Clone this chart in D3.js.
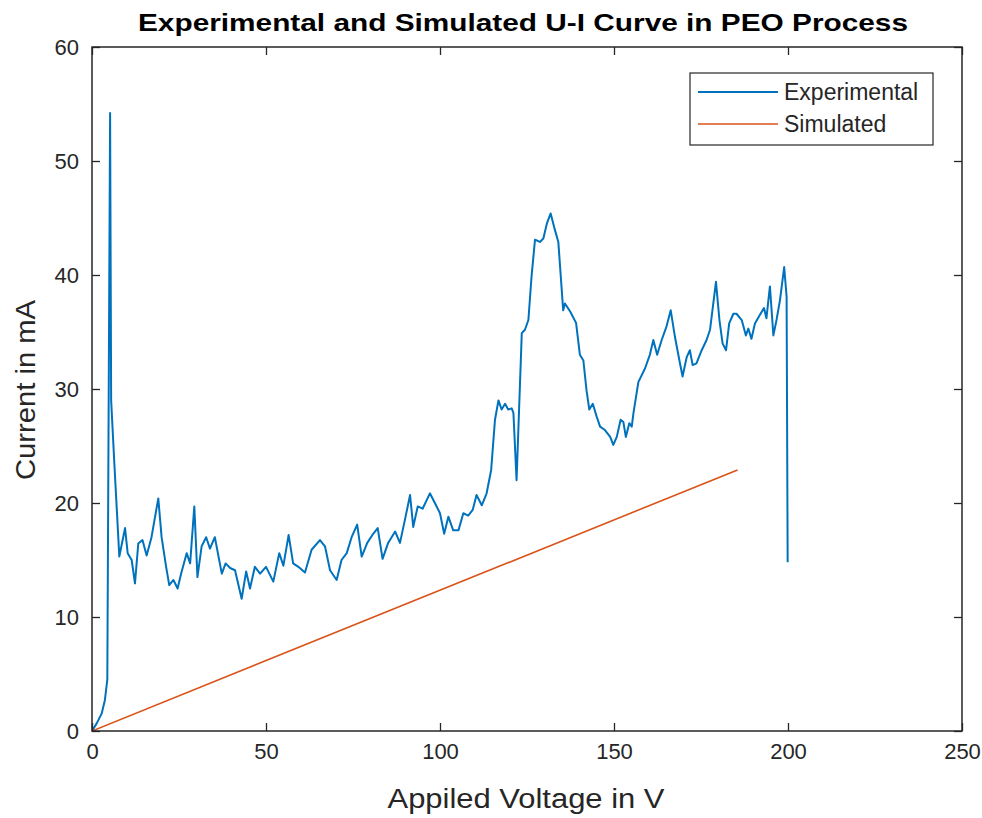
<!DOCTYPE html>
<html>
<head>
<meta charset="utf-8">
<script src="https://cdn.jsdelivr.net/npm/d3@7"></script>
<style>
  html, body { margin: 0; padding: 0; background: #ffffff; }
  svg { display: block; font-family: "Liberation Sans", Arial, Helvetica, sans-serif; }
</style>
</head>
<body>
<svg id="chart" width="982" height="818"></svg>
<script>
// Measured U-I curve of the plasma electrolytic oxidation run
const expVoltage = [0,1.35,2.8,3.7,4.4,5.2,5.5,6.5,7.85,8.8,9.5,10.25,11.4,12.35,13.3,14.5,15.7,17.1,19.05,20.0,
  21.3,22.2,23.4,24.6,25.6,27.2,28.2,29.4,30.3,31.5,32.8,33.9,35.3,37.3,38.4,39.7,41.1,43.0,44.3,45.4,
  46.8,48.3,50.0,52.1,53.8,55.0,56.5,57.8,59.3,61.2,63.1,65.5,66.95,68.4,70.3,71.7,73.2,74.6,76.2,77.5,
  79.1,80.8,82.1,83.5,85.1,87.1,88.5,89.9,91.4,92.3,93.6,95.0,97.1,98.6,100.0,101.2,102.4,103.8,105.3,106.7,
  108.1,109.4,110.5,112.0,113.4,114.7,115.8,116.8,117.7,118.7,119.6,120.6,121.1,122.0,123.5,124.4,125.4,126.3,127.3,128.7,
  129.7,130.7,131.8,132.8,134.0,135.4,135.9,137.4,139.1,140.2,141.2,142.1,142.9,143.9,145.0,146.0,147.4,148.9,149.8,150.8,
  151.9,152.7,153.4,154.4,155.1,155.6,157.0,158.9,160.3,161.3,162.4,163.7,165.1,166.3,167.5,168.8,169.7,170.9,171.8,172.6,
  173.7,175.2,176.6,177.6,179.3,180.3,181.2,182.2,183.1,184.3,185.2,186.7,187.9,188.6,189.5,190.5,191.9,193.1,193.8,194.8,
  195.8,196.7,197.7,198.9,199.6,199.9];
const expCurrent = [0,0.67,1.55,2.7,4.5,54.2,29,23,15.3,16.75,17.8,15.6,15.0,12.95,16.45,16.75,15.4,17.0,20.4,17.0,
  14.4,12.8,13.25,12.5,13.8,15.6,14.7,19.7,13.5,16.2,17.0,16.0,17.0,13.8,14.7,14.3,14.1,11.6,14.0,12.5,
  14.4,13.8,14.4,13.1,15.6,14.5,17.2,14.7,14.4,13.9,15.9,16.75,16.2,14.1,13.25,15.0,15.6,17.0,18.1,15.3,
  16.5,17.3,17.8,15.1,16.5,17.5,16.5,18.5,20.7,17.9,19.7,19.5,20.85,19.96,19.1,17.3,18.8,17.6,17.6,19.1,
  18.9,19.4,20.7,19.8,20.85,22.9,27.3,29.0,28.2,28.7,28.2,28.3,27.9,22.0,34.9,35.2,36.05,39.85,43.1,42.9,
  43.2,44.5,45.4,44.2,42.9,36.9,37.5,36.8,35.8,33.0,32.5,29.9,28.2,28.7,27.6,26.7,26.4,25.8,25.1,25.8,
  27.3,27.1,25.8,27.0,26.7,27.9,30.6,31.8,33.0,34.3,33.0,34.3,35.5,36.9,34.6,32.5,31.1,32.8,33.4,32.1,
  32.25,33.4,34.3,35.2,39.4,36.05,34.0,33.4,35.75,36.6,36.6,36.05,34.7,35.3,34.4,35.75,36.5,37.1,36.2,39.0,
  34.7,36.05,37.8,40.7,38.1,14.8];

// Model prediction (straight ohmic line)
const simVoltage = [0, 185.5];
const simCurrent = [0, 22.9];

// Axis ticks
const xTicks = [0, 50, 100, 150, 200, 250];
const yTicks = [0, 10, 20, 30, 40, 50, 60];

const seriesNames = ["Experimental", "Simulated"];
const seriesColors = ["#0072BD", "#D95319"];

const axisColor = "#262626";
const plot = { left: 92, right: 962, top: 47, bottom: 731 };

const svg = d3.select("#chart");

const x = d3.scaleLinear().domain([0, 250]).range([plot.left, plot.right]);
const y = d3.scaleLinear().domain([0, 60]).range([plot.bottom, plot.top]);

// Series
const line = d3.line().x(d => x(d[0])).y(d => y(d[1]));
const expData = expVoltage.map((v, i) => [v, expCurrent[i]]);
const simData = simVoltage.map((v, i) => [v, simCurrent[i]]);

svg.append("clipPath").attr("id", "plotClip")
  .append("rect").attr("x", plot.left).attr("y", plot.top)
  .attr("width", plot.right - plot.left).attr("height", plot.bottom - plot.top);

svg.append("path").datum(expData)
  .attr("d", line).attr("fill", "none")
  .attr("stroke", seriesColors[0]).attr("stroke-width", 2)
  .attr("stroke-linejoin", "round")
  .attr("clip-path", "url(#plotClip)");

svg.append("path").datum(simData)
  .attr("d", line).attr("fill", "none")
  .attr("stroke", seriesColors[1]).attr("stroke-width", 1.6)
  .attr("clip-path", "url(#plotClip)");

// Axes with inward ticks on all four sides
const tickLen = 8;
function styleAxis(g) {
  g.select(".domain").remove();
  g.selectAll(".tick line").attr("stroke", axisColor).attr("stroke-width", 1.3);
  g.selectAll(".tick text").attr("fill", axisColor).attr("font-size", 22);
}

svg.append("g").attr("transform", `translate(0,${plot.bottom})`)
  .call(d3.axisBottom(x).tickValues(xTicks).tickFormat(d3.format("d")).tickSize(-tickLen).tickPadding(12))
  .call(styleAxis);

svg.append("g").attr("transform", `translate(0,${plot.top})`)
  .call(d3.axisTop(x).tickValues(xTicks).tickFormat("").tickSize(-tickLen))
  .call(styleAxis);

svg.append("g").attr("transform", `translate(${plot.left},0)`)
  .call(d3.axisLeft(y).tickValues(yTicks).tickFormat(d3.format("d")).tickSize(-tickLen).tickPadding(13))
  .call(styleAxis);

svg.append("g").attr("transform", `translate(${plot.right},0)`)
  .call(d3.axisRight(y).tickValues(yTicks).tickFormat("").tickSize(-tickLen))
  .call(styleAxis);

// Axes box
svg.append("rect")
  .attr("x", plot.left).attr("y", plot.top)
  .attr("width", plot.right - plot.left).attr("height", plot.bottom - plot.top)
  .attr("fill", "none").attr("stroke", axisColor).attr("stroke-width", 1.5);

// Title and axis labels
svg.append("text")
  .attr("x", 523).attr("y", 31)
  .attr("text-anchor", "middle")
  .attr("font-size", 24).attr("font-weight", "bold").attr("fill", "#000")
  .attr("textLength", 770).attr("lengthAdjust", "spacingAndGlyphs")
  .text("Experimental and Simulated U-I Curve in PEO Process");

svg.append("text")
  .attr("x", 526).attr("y", 808)
  .attr("text-anchor", "middle")
  .attr("font-size", 27).attr("fill", axisColor)
  .attr("textLength", 277).attr("lengthAdjust", "spacingAndGlyphs")
  .text("Appiled Voltage in V");

svg.append("text")
  .attr("transform", "translate(35,390) rotate(-90)")
  .attr("text-anchor", "middle")
  .attr("font-size", 27).attr("fill", axisColor)
  .attr("textLength", 180).attr("lengthAdjust", "spacingAndGlyphs")
  .text("Current in mA");

// Legend
const legend = svg.append("g").attr("transform", "translate(690,73)");
legend.append("rect")
  .attr("width", 243).attr("height", 72)
  .attr("fill", "#fff").attr("stroke", axisColor).attr("stroke-width", 1.2);
seriesNames.forEach((name, i) => {
  const ly = 19 + i * 32;
  legend.append("line")
    .attr("x1", 8).attr("x2", 88).attr("y1", ly).attr("y2", ly)
    .attr("stroke", seriesColors[i]).attr("stroke-width", i === 0 ? 2 : 1.6);
  legend.append("text")
    .attr("x", 94).attr("y", ly + 8)
    .attr("font-size", 23).attr("fill", axisColor)
    .text(name);
});
</script>
</body>
</html>
